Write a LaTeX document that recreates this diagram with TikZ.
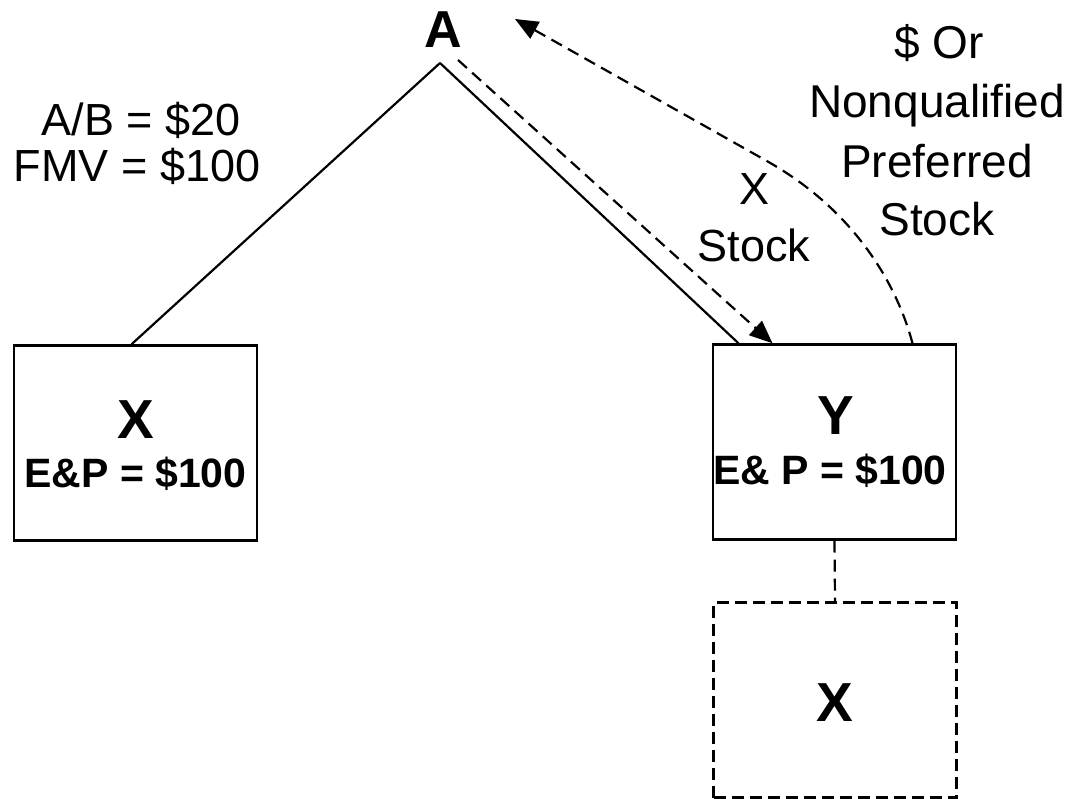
\documentclass[tikz,border=0pt]{standalone}
\usepackage{fontspec}
\setmainfont{Liberation Sans}
\usetikzlibrary{arrows.meta}
\tikzset{
  lbl/.style={anchor=base, inner sep=0pt, font=\fontsize{45}{45}\selectfont},
  blbl/.style={anchor=base, inner sep=0pt, font=\bfseries\fontsize{#1}{#1}\selectfont},
  entity/.style={draw, line width=2.4pt, minimum width=243pt, minimum height=195pt, inner sep=0pt},
  ghost/.style={entity, dash pattern=on 12pt off 6pt},
  conn/.style={line width=2.2pt},
  dconn/.style={line width=2.2pt, dash pattern=on 12pt off 7pt},
  tip/.style={-{Triangle[length=23pt,width=19pt]}}
}
\begin{document}
\begin{tikzpicture}[x=1pt,y=-1pt]
\useasboundingbox (0,0) rectangle (1076,799);
% entities
\node[entity] (bx) at (135.5,443) {};
\node[entity] (by) at (834.5,442) {};
\node[ghost] (bx2) at (835,700) {};
\node[blbl=52] (A) at (443,48) {A};
\coordinate (apex) at (440,63);
\coordinate (dstart) at (458,60);
\coordinate (ctip) at (515,19);
% box texts
\node[blbl=55] (tx) at (135.5,438) {X};
\node[blbl=41] (tep) at (135.5,487) {E\&P = \$100};
\node[blbl=55] (ty) at (836,434) {Y};
\node[blbl=41] (tep2) at (830,484) {E\& P = \$100};
\node[blbl=55] (tx2) at (835,721) {X};
% labels
\node[lbl] (ab) at (141,136) {A/B = \$20};
\node[lbl] (fmv) at (137,182) {FMV = \$100};
\node[lbl] (xs1) at (754,205) {X};
\node[lbl] (xs2) at (754,262) {Stock};
\node[lbl, font=\fontsize{46}{46}\selectfont] (r1) at (939,59) {\$ Or};
\node[lbl, font=\fontsize{46}{46}\selectfont] (r2) at (937,118) {Nonqualified};
\node[lbl, font=\fontsize{46}{46}\selectfont] (r3) at (937,178) {Preferred};
\node[lbl, font=\fontsize{46}{46}\selectfont] (r4) at (937,236) {Stock};
% connectors
\draw[conn] (apex) -- ([xshift=-4pt]bx.north);
\draw[conn] (apex) -- ([xshift=-96pt]by.north);
\draw[dconn, tip] (dstart) -- ([xshift=-62pt]by.north);
\draw[dconn, tip] ([xshift=78pt]by.north) .. controls (897,285) and (855,210) .. (765,160) -- (ctip);
\draw[dconn] (by.south) -- (bx2.north);
\end{tikzpicture}
\end{document}
